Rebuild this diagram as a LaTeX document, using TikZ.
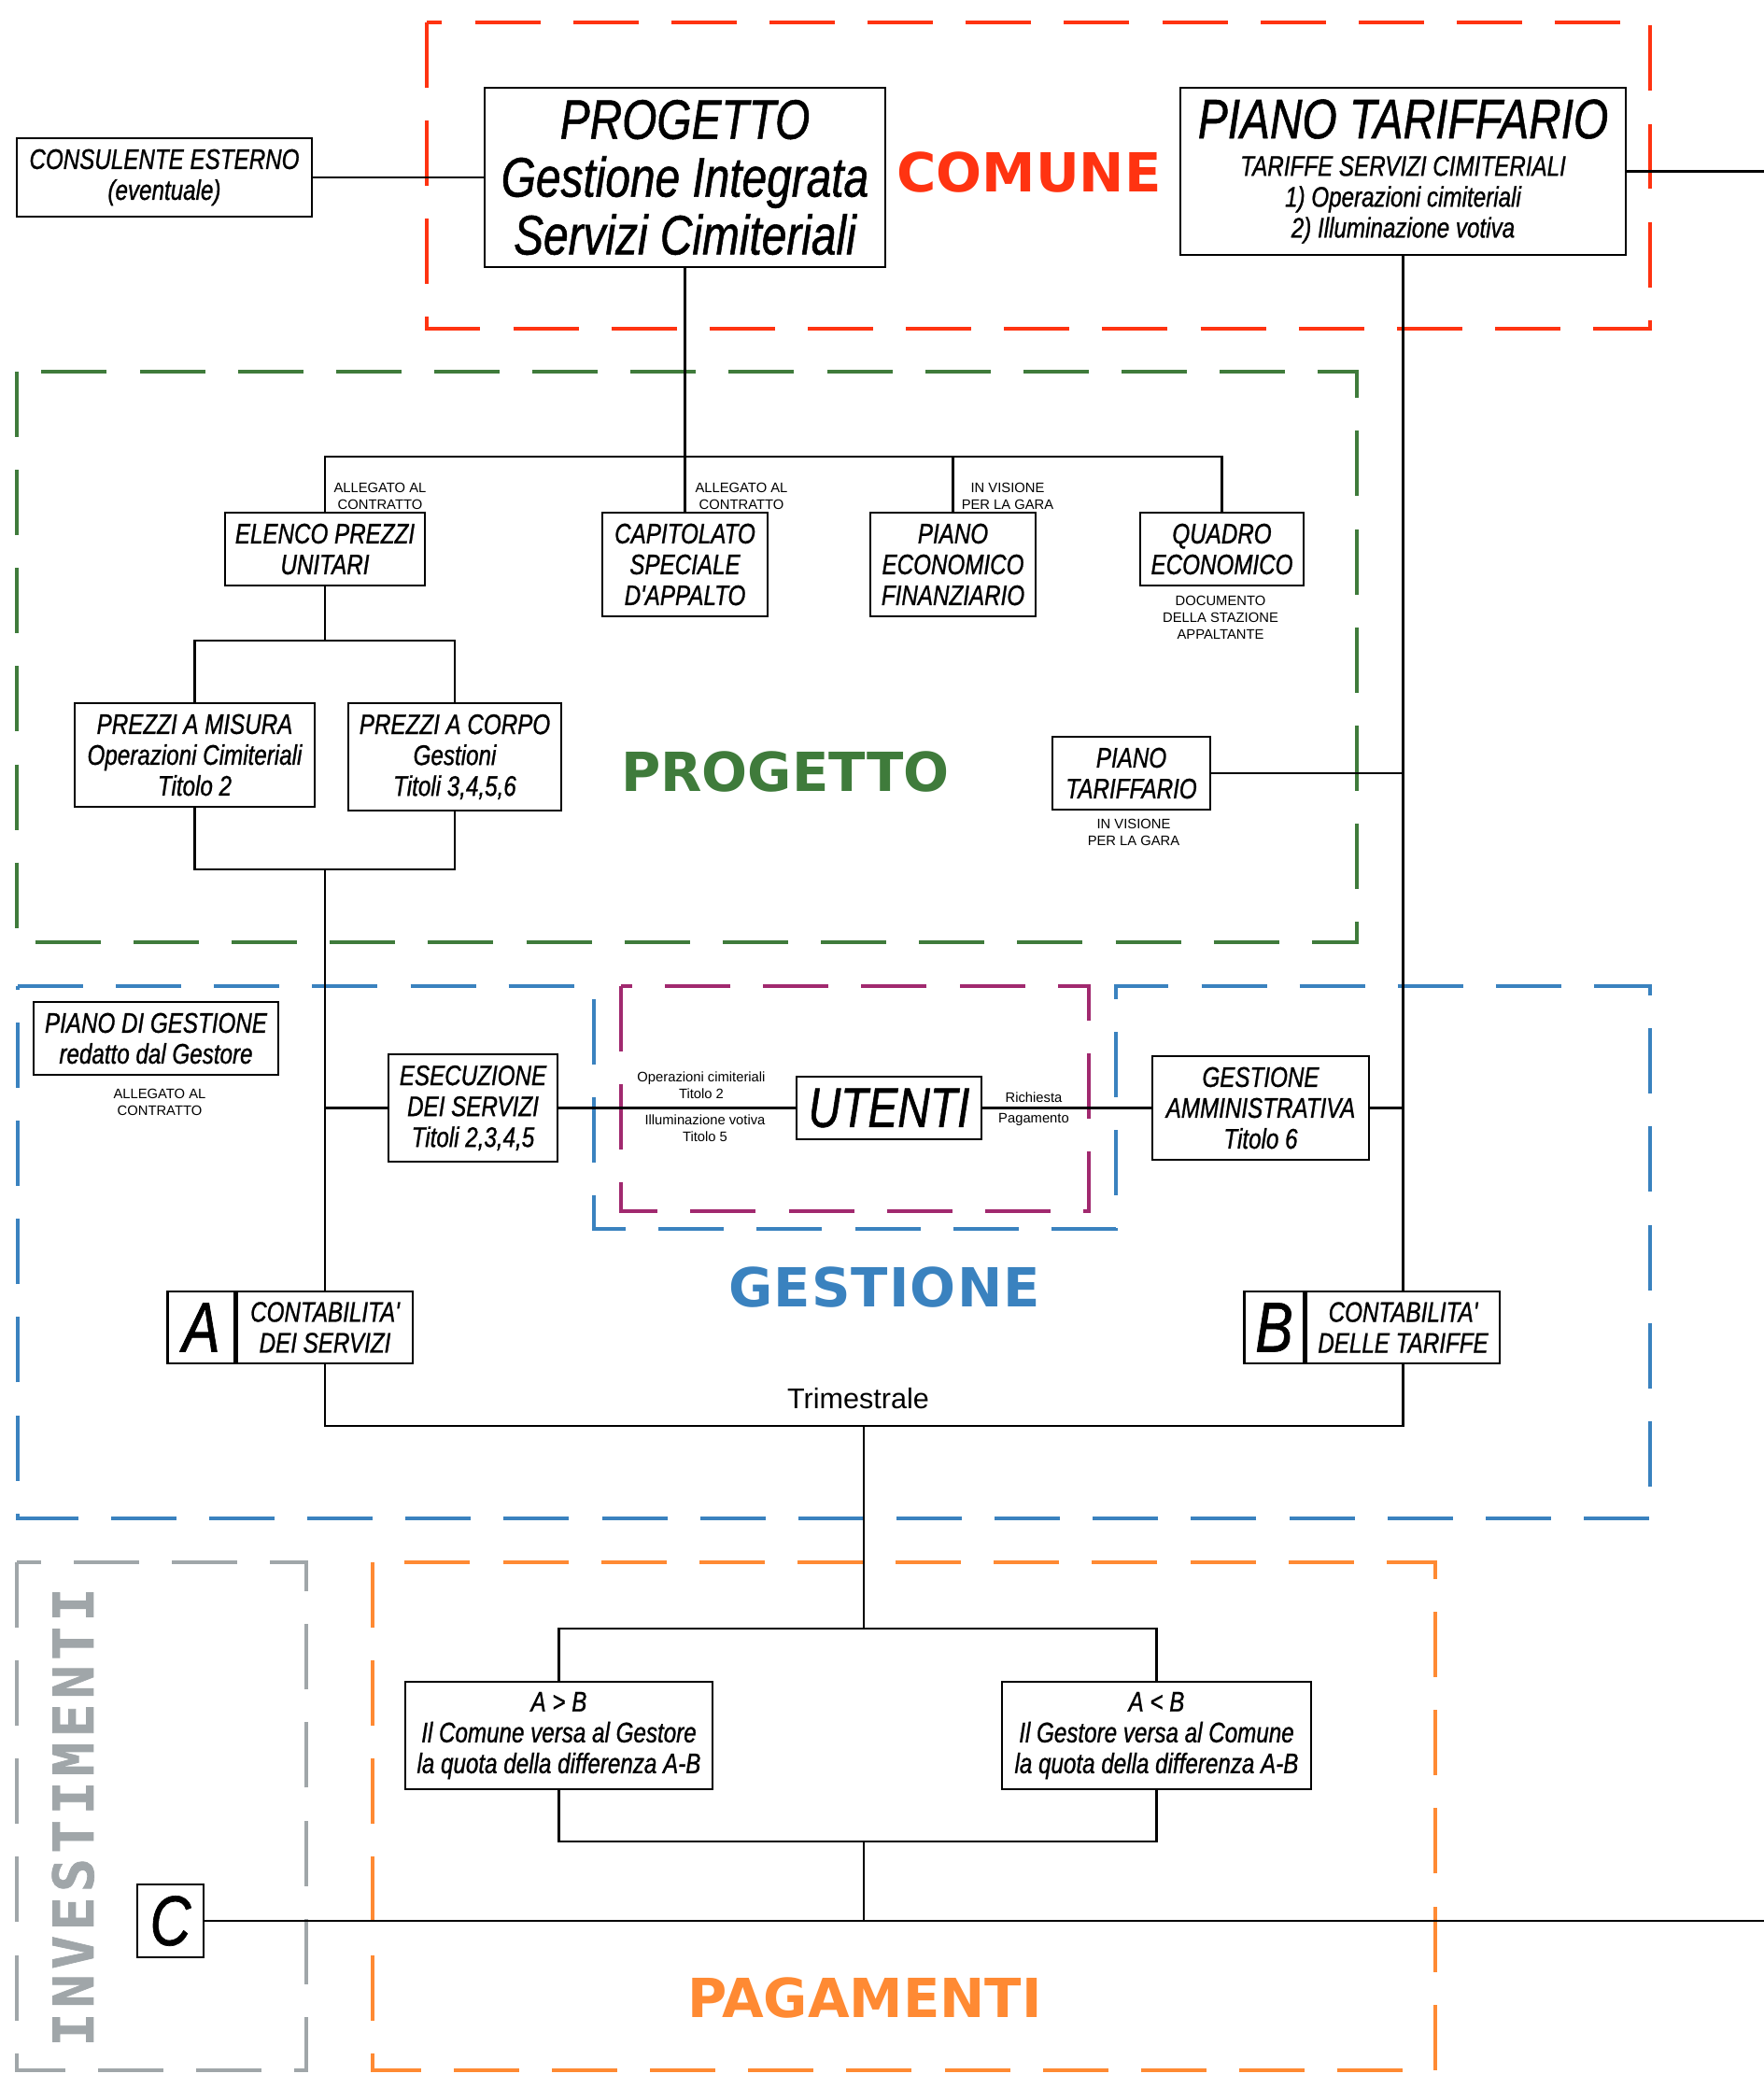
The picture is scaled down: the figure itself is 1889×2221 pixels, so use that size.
\documentclass[tikz,border=0pt]{standalone}
\usepackage{fontspec}
\setmainfont{Liberation Sans}
\newfontfamily\narrowfont[FakeStretch=0.8, FakeBold=0.9]{Liberation Sans}
\newfontfamily\zonefamily{DejaVu Sans}
\newfontfamily\monofamily[LetterSpace=9, FakeBold=1.2]{DejaVu Sans Mono}
\usepackage{tikz}
\usetikzlibrary{positioning,calc}
\usepackage{xcolor}

\definecolor{rosso}{HTML}{FF3311}
\definecolor{verde}{HTML}{3F7B3B}
\definecolor{blu}{HTML}{3A82BF}
\definecolor{viola}{HTML}{A1296F}
\definecolor{arancio}{HTML}{FF8A33}
\definecolor{grigio}{HTML}{A0A6A9}

\newcommand{\fntbox}{\narrowfont\itshape\fontsize{8.6}{9.4}\selectfont}
\newcommand{\fntbig}{\narrowfont\itshape\fontsize{17}{17.6}\selectfont}
\newcommand{\fntlet}{\narrowfont\itshape\fontsize{21.5}{22}\selectfont}
\newcommand{\fntnote}{\fontsize{4.2}{5.1}\selectfont}
\newcommand{\fntmid}{\fontsize{8.7}{10}\selectfont}
\newcommand{\fntzone}{\zonefamily\bfseries\fontsize{16.4}{18}\selectfont}
\newcommand{\fntmono}{\monofamily\bfseries\fontsize{17}{18}\selectfont}

\tikzset{
  box/.style={draw, fill=white, line width=0.7pt, inner sep=0pt, align=center, font=\fntbox},
  bigbox/.style={box, font=\fntbig},
  letbox/.style={box, font=\fntlet},
  note/.style={inner sep=0pt, align=center, font=\fntnote},
  zone/.style={line width=1.4pt, dash pattern=on 19.9pt off 10pt},
  zonelabel/.style={inner sep=0pt, anchor=base, font=\fntzone},
  link/.style={line width=0.6pt},
  thicklink/.style={line width=0.8pt}
}

\begin{document}
\begin{tikzpicture}[x=0.01cm, y=-0.01cm]

\useasboundingbox (0,0) rectangle (1889,2221);

% --- Zone tratteggiate ---
\draw[zone, rosso] (457,24) rectangle (1767,352);
\draw[zone, verde] (18,398) rectangle (1453,1009);
\draw[zone, blu] (19,1056) -- (636,1056) -- (636,1316) -- (1195,1316) -- (1195,1056)
  -- (1767,1056) -- (1767,1626) -- (19,1626) -- cycle;
\draw[zone, viola] (665,1056) rectangle (1166,1297);
\draw[zone, grigio] (18,1673) rectangle (328,2217);
\draw[zone, arancio] (399,1673) rectangle (1537,2217);

\node[zonelabel, rosso] (lblcomune) at (1102,205) {COMUNE};
\node[zonelabel, verde] (lblprogetto) at (841,847) {PROGETTO};
\node[zonelabel, blu] (lblgestione) at (947,1399) {\addfontfeature{LetterSpace=2}GESTIONE};
\node[zonelabel, arancio] (lblpagamenti) at (926,2160) {PAGAMENTI};
\node[zonelabel, grigio, rotate=90, font=\fntmono] (lblinvest) at (100,1946) {INVESTIMENTI};

% --- Comune ---
\node[box, minimum width=3.16cm, minimum height=0.84cm] (consulente) at (176,190)
  {CONSULENTE ESTERNO\\(eventuale)};
\node[bigbox, minimum width=4.29cm, minimum height=1.92cm] (progetto) at (733.5,190)
  {PROGETTO\\Gestione Integrata\\Servizi Cimiteriali};
\node[box, minimum width=4.77cm, minimum height=1.79cm] (pianotar) at (1502.5,183.5)
  {{\fntbig PIANO TARIFFARIO}\\[2pt]TARIFFE SERVIZI CIMITERIALI\\1) Operazioni cimiteriali\\2) Illuminazione votiva};

% --- Progetto ---
\node[box, minimum width=2.14cm, minimum height=0.78cm] (elenco) at (348,588) {ELENCO PREZZI\\UNITARI};
\node[box, minimum width=1.77cm, minimum height=1.11cm] (capitolato) at (733.5,604.5) {CAPITOLATO\\SPECIALE\\D'APPALTO};
\node[box, minimum width=1.77cm, minimum height=1.11cm] (pef) at (1020.5,604.5) {PIANO\\ECONOMICO\\FINANZIARIO};
\node[box, minimum width=1.75cm, minimum height=0.78cm] (quadro) at (1308.5,588) {QUADRO\\ECONOMICO};
\node[box, minimum width=2.57cm, minimum height=1.11cm] (misura) at (208.5,808.5) {PREZZI A MISURA\\Operazioni Cimiteriali\\Titolo 2};
\node[box, minimum width=2.28cm, minimum height=1.15cm] (corpo) at (487,810.5) {PREZZI A CORPO\\Gestioni\\Titoli 3,4,5,6};
\node[box, minimum width=1.69cm, minimum height=0.78cm] (ptgara) at (1211.5,828) {PIANO\\TARIFFARIO};

\node[note] (allegEl) at (407,531) {ALLEGATO AL\\CONTRATTO};
\node[note] (allegCap) at (794,531) {ALLEGATO AL\\CONTRATTO};
\node[note] (visPef) at (1079,531) {IN VISIONE\\PER LA GARA};
\node[note] (docQuadro) at (1307,661) {DOCUMENTO\\DELLA STAZIONE\\APPALTANTE};
\node[note] (visPt) at (1214,891) {IN VISIONE\\PER LA GARA};

% --- Gestione ---
\node[box, minimum width=2.62cm, minimum height=0.78cm] (pdg) at (167,1112) {PIANO DI GESTIONE\\redatto dal Gestore};
\node[note] (allegPdg) at (171,1180) {ALLEGATO AL\\CONTRATTO};
\node[box, minimum width=1.81cm, minimum height=1.15cm] (esecuzione) at (506.5,1186.5) {ESECUZIONE\\DEI SERVIZI\\Titoli 2,3,4,5};
\node[bigbox, minimum width=1.98cm, minimum height=0.67cm] (utenti) at (952,1186.5) {UTENTI};
\node[box, minimum width=2.32cm, minimum height=1.11cm] (gestamm) at (1350,1186.5) {GESTIONE\\AMMINISTRATIVA\\Titolo 6};

\node[note] (opCim) at (751,1162) {Operazioni cimiteriali\\Titolo 2};
\node[note] (illVot) at (755,1208) {Illuminazione votiva\\Titolo 5};
\node[note] (richiesta) at (1107,1175) {Richiesta};
\node[note] (pagamento) at (1107,1199) {Pagamento};

\node[box, minimum width=1.88cm, minimum height=0.77cm] (contA) at (348,1421.5) {CONTABILITA'\\DEI SERVIZI};
\node[letbox, minimum width=0.72cm, minimum height=0.77cm, left=0pt of contA] (letA) {A};
\node[box, minimum width=2.07cm, minimum height=0.77cm] (contB) at (1502.5,1421.5) {CONTABILITA'\\DELLE TARIFFE};
\node[letbox, minimum width=0.64cm, minimum height=0.77cm, left=0pt of contB] (letB) {B};
\node[font=\fntmid, anchor=base, inner sep=0pt] (trimestrale) at (919,1508) {Trimestrale};

% --- Pagamenti ---
\node[box, minimum width=3.29cm, minimum height=1.15cm] (AgtB) at (598.5,1858.5)
  {A > B\\Il Comune versa al Gestore\\la quota della differenza A-B};
\node[box, minimum width=3.31cm, minimum height=1.15cm] (AltB) at (1238.5,1858.5)
  {A < B\\Il Gestore versa al Comune\\la quota della differenza A-B};
\node[letbox, minimum width=0.71cm, minimum height=0.78cm] (letC) at (182.5,2057) {C};

% --- Collegamenti ---
\coordinate (margine) at (1889,0);
\coordinate (busP) at (733.5,489);
\coordinate (splitP) at (348,686);
\coordinate (joinP) at (348,931);
\coordinate (trim) at (925,1527);
\coordinate (splitPag) at (925,1744);
\coordinate (joinPag) at (925,1972);

\draw[link] (consulente) -- (progetto);
\draw[link] (pianotar.east) -- (pianotar.east -| margine);
\draw[link] (progetto) -- (busP);
\draw[link] (elenco.north) |- (busP) -| (quadro.north);
\draw[link] (busP) -- (capitolato);
\draw[link] (pef.north) -- (pef.north |- busP);
\draw[link] (pianotar) -- (contB);
\draw[link] (ptgara.east) -- (ptgara.east -| pianotar.south);
\draw[link] (gestamm.east) -- (gestamm.east -| pianotar.south);

\draw[link] (elenco) -- (splitP);
\draw[link] (misura.north) |- (splitP) -| (corpo.north);
\draw[link] (misura.south) |- (joinP) -| (corpo.south);
\draw[link] (joinP) -- (contA.north);

\draw[link] (esecuzione.west) -- (esecuzione.west -| contA.north);
\draw[link] (esecuzione) -- (utenti);
\draw[link] (utenti) -- (gestamm);

\draw[thicklink] (contA.south) |- (trim) -| (contB.south);
\draw[link] (trim) -- (splitPag);
\draw[thicklink] (AgtB.north) |- (splitPag) -| (AltB.north);
\draw[thicklink] (AgtB.south) |- (joinPag) -| (AltB.south);
\draw[link] (joinPag) -- (joinPag |- letC.east);
\draw[thicklink] (letC.east) -- (letC.east -| margine);

\end{tikzpicture}
\end{document}
